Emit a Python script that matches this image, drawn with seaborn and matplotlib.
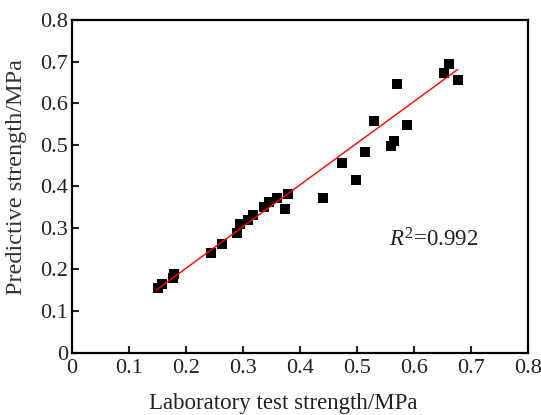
import numpy as np
import pandas as pd
import matplotlib
matplotlib.use("Agg")
import matplotlib.pyplot as plt
import seaborn as sns

# Data
lab_strength = [0.150, 0.157, 0.177, 0.178, 0.244, 0.263, 0.290, 0.294, 0.309,
                0.318, 0.337, 0.346, 0.359, 0.379, 0.374, 0.440, 0.498, 0.473,
                0.513, 0.530, 0.560, 0.565, 0.588, 0.570, 0.653, 0.661, 0.677]
pred_strength = [0.156, 0.166, 0.180, 0.190, 0.239, 0.261, 0.288, 0.310, 0.319,
                 0.332, 0.351, 0.362, 0.371, 0.381, 0.345, 0.372, 0.414, 0.455,
                 0.482, 0.558, 0.496, 0.510, 0.548, 0.647, 0.673, 0.693, 0.655]
# fitted line as drawn in the reference (slope / intercept)
fit_slope = 1.004
fit_intercept = 0.002
fit_x_range = [0.147, 0.676]
tick_values = [0, 0.1, 0.2, 0.3, 0.4, 0.5, 0.6, 0.7, 0.8]
tick_labels = ["0", "0.1", "0.2", "0.3", "0.4", "0.5", "0.6", "0.7", "0.8"]
r2_text = r"$R^2$=0.992"
x_label = "Laboratory test strength/MPa"
y_label = "Predictive strength/MPa"

df = pd.DataFrame({"lab": lab_strength, "pred": pred_strength})
fit_x = np.array(fit_x_range)
fit_df = pd.DataFrame({"x": fit_x, "y": fit_slope * fit_x + fit_intercept})

sns.set_style("ticks")
plt.rcParams["font.family"] = ["Liberation Serif", "DejaVu Serif"]
plt.rcParams["mathtext.fontset"] = "custom"
plt.rcParams["mathtext.rm"] = "Liberation Serif"
plt.rcParams["mathtext.it"] = "Liberation Serif:italic"

fig = plt.figure(figsize=(5.41, 4.15), dpi=100)
ax = fig.add_axes([0.1331, 0.1506, 0.8434, 0.8012])

sns.scatterplot(data=df, x="lab", y="pred", ax=ax, marker="s", s=55,
                color="black", edgecolor="black", linewidth=0, zorder=2)
sns.lineplot(data=fit_df, x="x", y="y", ax=ax, color="red", linewidth=1.0,
             zorder=3)

ax.set_xlim(0, 0.8)
ax.set_ylim(0, 0.8)
ax.set_xticks(tick_values)
ax.set_xticklabels(tick_labels)
ax.set_yticks(tick_values)
ax.set_yticklabels(tick_labels)
ax.tick_params(direction="in", length=5, width=1.5, labelsize=16,
               colors="#222222", top=False, right=False)
ax.tick_params(axis="x", pad=5)
ax.tick_params(axis="y", pad=3)
for sp in ax.spines.values():
    sp.set_visible(True)
    sp.set_linewidth(1.6)
    sp.set_color("black")

ax.set_xlabel(x_label, fontsize=16.5, color="#222222", va="center")
ax.set_ylabel(y_label, fontsize=17.5, color="#333333", va="center")
ax.xaxis.set_label_coords(0.463, -0.152)
ax.yaxis.set_label_coords(-0.122, 0.528)
ax.text(0.556, 0.271, r2_text, fontsize=16.5, color="#222222",
        ha="left", va="center")

fig.savefig("out.png", dpi=100)
